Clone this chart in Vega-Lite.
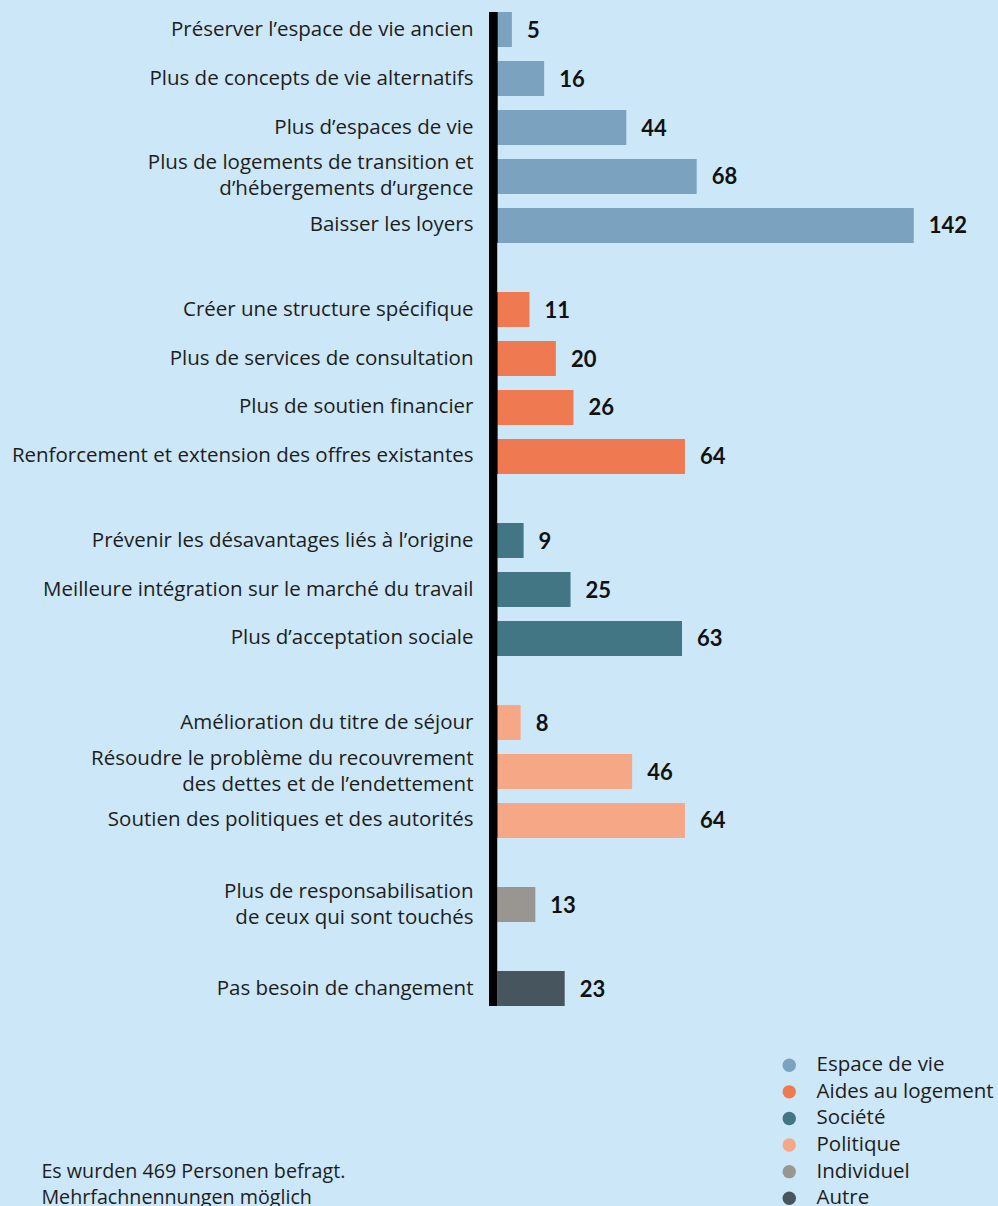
{
  "$schema": "https://vega.github.io/schema/vega-lite/v6.json",
  "background": "#cce7f8",
  "padding": {"left": 11, "top": 12, "right": 40, "bottom": 12},
  "datasets": {
    "rows": [
      {"label": "Préserver l’espace de vie ancien", "value": 5, "cat": "Espace de vie"},
      {"label": "Plus de concepts de vie alternatifs", "value": 16, "cat": "Espace de vie"},
      {"label": "Plus d’espaces de vie", "value": 44, "cat": "Espace de vie"},
      {"label": "Plus de logements de transition et|d’hébergements d’urgence", "value": 68, "cat": "Espace de vie"},
      {"label": "Baisser les loyers", "value": 142, "cat": "Espace de vie"},
      {"label": "Créer une structure spécifique", "value": 11, "cat": "Aides au logement"},
      {"label": "Plus de services de consultation", "value": 20, "cat": "Aides au logement"},
      {"label": "Plus de soutien financier", "value": 26, "cat": "Aides au logement"},
      {"label": "Renforcement et extension des offres existantes", "value": 64, "cat": "Aides au logement"},
      {"label": "Prévenir les désavantages liés à l’origine", "value": 9, "cat": "Société"},
      {"label": "Meilleure intégration sur le marché du travail", "value": 25, "cat": "Société"},
      {"label": "Plus d’acceptation sociale", "value": 63, "cat": "Société"},
      {"label": "Amélioration du titre de séjour", "value": 8, "cat": "Politique"},
      {"label": "Résoudre le problème du recouvrement|des dettes et de l’endettement", "value": 46, "cat": "Politique"},
      {"label": "Soutien des politiques et des autorités", "value": 64, "cat": "Politique"},
      {"label": "Plus de responsabilisation|de ceux qui sont touchés", "value": 13, "cat": "Individuel"},
      {"label": "Pas besoin de changement", "value": 23, "cat": "Autre"}
    ]
  },
  "config": {
    "view": {"stroke": null},
    "font": "Open Sans",
    "axis": {
      "labelFont": "Open Sans", "labelFontSize": 20.5, "labelColor": "#1d1d1b",
      "labelPadding": 16, "ticks": false, "domain": false, "grid": false,
      "labelLimit": 700, "labelLineHeight": 26,
      "labelBaseline": {"condition": {"test": "indexof(datum.value, '|') >= 0", "value": "line-bottom"}, "value": "middle"}
    },
    "legend": {
      "orient": "none", "legendX": 290, "legendY": 1043,
      "symbolType": "circle", "symbolSize": 180, "symbolStrokeWidth": 0, "symbolOpacity": 1,
      "labelFont": "Open Sans", "labelFontSize": 20.5, "labelColor": "#1d1d1b",
      "labelOffset": 17, "rowPadding": 5.6, "labelLimit": 300
    }
  },
  "title": {
    "text": ["Es wurden 469 Personen befragt.", "Mehrfachnennungen möglich"],
    "orient": "bottom", "anchor": "start", "frame": "bounds",
    "font": "Open Sans", "fontSize": 19.7, "fontWeight": "normal", "color": "#1d1d1b",
    "lineHeight": 26, "offset": -47.5, "dx": 30
  },
  "spacing": 0,
  "bounds": "flush",
  "resolve": {"scale": {"x": "independent", "y": "independent", "color": "shared"}},
  "vconcat": [
    {
      "width": 440, "height": 231,
      "data": {"name": "rows"},
      "transform": [{"filter": "datum.cat === 'Espace de vie'"}],
      "layer": [
        {"mark": {"type": "bar"}, "encoding": {
          "y": {"field": "label", "type": "nominal", "sort": null, "scale": {"paddingInner": 0.2857, "paddingOuter": 0}, "axis": {"title": null, "labelExpr": "split(datum.value, '|')"}},
          "x": {"field": "value", "type": "quantitative", "scale": {"domain": [-2.8, 147.2], "nice": false, "zero": false}, "axis": null},
          "x2": {"datum": 0},
          "color": {"field": "cat", "type": "nominal", "scale": {"domain": ["Espace de vie", "Aides au logement", "Société", "Politique", "Individuel", "Autre"], "range": ["#7ba2be", "#ef7a52", "#437685", "#f6a886", "#999692", "#47555e"]}, "legend": {"title": null}}
        }},
        {"mark": {"type": "text", "align": "left", "baseline": "middle", "dx": 15, "dy": 1, "font": "Lato", "fontSize": 22, "fontWeight": "bold", "color": "#111111"}, "encoding": {
          "y": {"field": "label", "type": "nominal", "sort": null},
          "x": {"field": "value", "type": "quantitative", "axis": null},
          "text": {"field": "value", "type": "quantitative"}
        }},
        {"mark": {"type": "rect", "color": "#000000"}, "encoding": {"x": {"datum": -2.8, "axis": null}, "x2": {"datum": 0}}}
      ]
    },
    {
      "width": 440, "height": 49,
      "data": {"values": [{"z": 0}]},
      "mark": {"type": "rect", "color": "#000000"},
      "encoding": {"x": {"datum": -2.8, "scale": {"domain": [-2.8, 147.2], "nice": false, "zero": false}, "axis": null}, "x2": {"datum": 0}}
    },
    {
      "width": 440, "height": 182,
      "data": {"name": "rows"},
      "transform": [{"filter": "datum.cat === 'Aides au logement'"}],
      "layer": [
        {"mark": {"type": "bar"}, "encoding": {
          "y": {"field": "label", "type": "nominal", "sort": null, "scale": {"paddingInner": 0.2857, "paddingOuter": 0}, "axis": {"title": null, "labelExpr": "split(datum.value, '|')"}},
          "x": {"field": "value", "type": "quantitative", "scale": {"domain": [-2.8, 147.2], "nice": false, "zero": false}, "axis": null},
          "x2": {"datum": 0},
          "color": {"field": "cat", "type": "nominal", "scale": {"domain": ["Espace de vie", "Aides au logement", "Société", "Politique", "Individuel", "Autre"], "range": ["#7ba2be", "#ef7a52", "#437685", "#f6a886", "#999692", "#47555e"]}, "legend": {"title": null}}
        }},
        {"mark": {"type": "text", "align": "left", "baseline": "middle", "dx": 15, "dy": 1, "font": "Lato", "fontSize": 22, "fontWeight": "bold", "color": "#111111"}, "encoding": {
          "y": {"field": "label", "type": "nominal", "sort": null},
          "x": {"field": "value", "type": "quantitative", "axis": null},
          "text": {"field": "value", "type": "quantitative"}
        }},
        {"mark": {"type": "rect", "color": "#000000"}, "encoding": {"x": {"datum": -2.8, "axis": null}, "x2": {"datum": 0}}}
      ]
    },
    {
      "width": 440, "height": 49,
      "data": {"values": [{"z": 0}]},
      "mark": {"type": "rect", "color": "#000000"},
      "encoding": {"x": {"datum": -2.8, "scale": {"domain": [-2.8, 147.2], "nice": false, "zero": false}, "axis": null}, "x2": {"datum": 0}}
    },
    {
      "width": 440, "height": 133,
      "data": {"name": "rows"},
      "transform": [{"filter": "datum.cat === 'Société'"}],
      "layer": [
        {"mark": {"type": "bar"}, "encoding": {
          "y": {"field": "label", "type": "nominal", "sort": null, "scale": {"paddingInner": 0.2857, "paddingOuter": 0}, "axis": {"title": null, "labelExpr": "split(datum.value, '|')"}},
          "x": {"field": "value", "type": "quantitative", "scale": {"domain": [-2.8, 147.2], "nice": false, "zero": false}, "axis": null},
          "x2": {"datum": 0},
          "color": {"field": "cat", "type": "nominal", "scale": {"domain": ["Espace de vie", "Aides au logement", "Société", "Politique", "Individuel", "Autre"], "range": ["#7ba2be", "#ef7a52", "#437685", "#f6a886", "#999692", "#47555e"]}, "legend": {"title": null}}
        }},
        {"mark": {"type": "text", "align": "left", "baseline": "middle", "dx": 15, "dy": 1, "font": "Lato", "fontSize": 22, "fontWeight": "bold", "color": "#111111"}, "encoding": {
          "y": {"field": "label", "type": "nominal", "sort": null},
          "x": {"field": "value", "type": "quantitative", "axis": null},
          "text": {"field": "value", "type": "quantitative"}
        }},
        {"mark": {"type": "rect", "color": "#000000"}, "encoding": {"x": {"datum": -2.8, "axis": null}, "x2": {"datum": 0}}}
      ]
    },
    {
      "width": 440, "height": 49,
      "data": {"values": [{"z": 0}]},
      "mark": {"type": "rect", "color": "#000000"},
      "encoding": {"x": {"datum": -2.8, "scale": {"domain": [-2.8, 147.2], "nice": false, "zero": false}, "axis": null}, "x2": {"datum": 0}}
    },
    {
      "width": 440, "height": 133,
      "data": {"name": "rows"},
      "transform": [{"filter": "datum.cat === 'Politique'"}],
      "layer": [
        {"mark": {"type": "bar"}, "encoding": {
          "y": {"field": "label", "type": "nominal", "sort": null, "scale": {"paddingInner": 0.2857, "paddingOuter": 0}, "axis": {"title": null, "labelExpr": "split(datum.value, '|')"}},
          "x": {"field": "value", "type": "quantitative", "scale": {"domain": [-2.8, 147.2], "nice": false, "zero": false}, "axis": null},
          "x2": {"datum": 0},
          "color": {"field": "cat", "type": "nominal", "scale": {"domain": ["Espace de vie", "Aides au logement", "Société", "Politique", "Individuel", "Autre"], "range": ["#7ba2be", "#ef7a52", "#437685", "#f6a886", "#999692", "#47555e"]}, "legend": {"title": null}}
        }},
        {"mark": {"type": "text", "align": "left", "baseline": "middle", "dx": 15, "dy": 1, "font": "Lato", "fontSize": 22, "fontWeight": "bold", "color": "#111111"}, "encoding": {
          "y": {"field": "label", "type": "nominal", "sort": null},
          "x": {"field": "value", "type": "quantitative", "axis": null},
          "text": {"field": "value", "type": "quantitative"}
        }},
        {"mark": {"type": "rect", "color": "#000000"}, "encoding": {"x": {"datum": -2.8, "axis": null}, "x2": {"datum": 0}}}
      ]
    },
    {
      "width": 440, "height": 49,
      "data": {"values": [{"z": 0}]},
      "mark": {"type": "rect", "color": "#000000"},
      "encoding": {"x": {"datum": -2.8, "scale": {"domain": [-2.8, 147.2], "nice": false, "zero": false}, "axis": null}, "x2": {"datum": 0}}
    },
    {
      "width": 440, "height": 35,
      "data": {"name": "rows"},
      "transform": [{"filter": "datum.cat === 'Individuel'"}],
      "layer": [
        {"mark": {"type": "bar"}, "encoding": {
          "y": {"field": "label", "type": "nominal", "sort": null, "scale": {"paddingInner": 0, "paddingOuter": 0}, "axis": {"title": null, "labelExpr": "split(datum.value, '|')"}},
          "x": {"field": "value", "type": "quantitative", "scale": {"domain": [-2.8, 147.2], "nice": false, "zero": false}, "axis": null},
          "x2": {"datum": 0},
          "color": {"field": "cat", "type": "nominal", "scale": {"domain": ["Espace de vie", "Aides au logement", "Société", "Politique", "Individuel", "Autre"], "range": ["#7ba2be", "#ef7a52", "#437685", "#f6a886", "#999692", "#47555e"]}, "legend": {"title": null}}
        }},
        {"mark": {"type": "text", "align": "left", "baseline": "middle", "dx": 15, "dy": 1, "font": "Lato", "fontSize": 22, "fontWeight": "bold", "color": "#111111"}, "encoding": {
          "y": {"field": "label", "type": "nominal", "sort": null},
          "x": {"field": "value", "type": "quantitative", "axis": null},
          "text": {"field": "value", "type": "quantitative"}
        }},
        {"mark": {"type": "rect", "color": "#000000"}, "encoding": {"x": {"datum": -2.8, "axis": null}, "x2": {"datum": 0}}}
      ]
    },
    {
      "width": 440, "height": 49,
      "data": {"values": [{"z": 0}]},
      "mark": {"type": "rect", "color": "#000000"},
      "encoding": {"x": {"datum": -2.8, "scale": {"domain": [-2.8, 147.2], "nice": false, "zero": false}, "axis": null}, "x2": {"datum": 0}}
    },
    {
      "width": 440, "height": 35,
      "data": {"name": "rows"},
      "transform": [{"filter": "datum.cat === 'Autre'"}],
      "layer": [
        {"mark": {"type": "bar"}, "encoding": {
          "y": {"field": "label", "type": "nominal", "sort": null, "scale": {"paddingInner": 0, "paddingOuter": 0}, "axis": {"title": null, "labelExpr": "split(datum.value, '|')"}},
          "x": {"field": "value", "type": "quantitative", "scale": {"domain": [-2.8, 147.2], "nice": false, "zero": false}, "axis": null},
          "x2": {"datum": 0},
          "color": {"field": "cat", "type": "nominal", "scale": {"domain": ["Espace de vie", "Aides au logement", "Société", "Politique", "Individuel", "Autre"], "range": ["#7ba2be", "#ef7a52", "#437685", "#f6a886", "#999692", "#47555e"]}, "legend": {"title": null}}
        }},
        {"mark": {"type": "text", "align": "left", "baseline": "middle", "dx": 15, "dy": 1, "font": "Lato", "fontSize": 22, "fontWeight": "bold", "color": "#111111"}, "encoding": {
          "y": {"field": "label", "type": "nominal", "sort": null},
          "x": {"field": "value", "type": "quantitative", "axis": null},
          "text": {"field": "value", "type": "quantitative"}
        }},
        {"mark": {"type": "rect", "color": "#000000"}, "encoding": {"x": {"datum": -2.8, "axis": null}, "x2": {"datum": 0}}}
      ]
    }
  ]
}
